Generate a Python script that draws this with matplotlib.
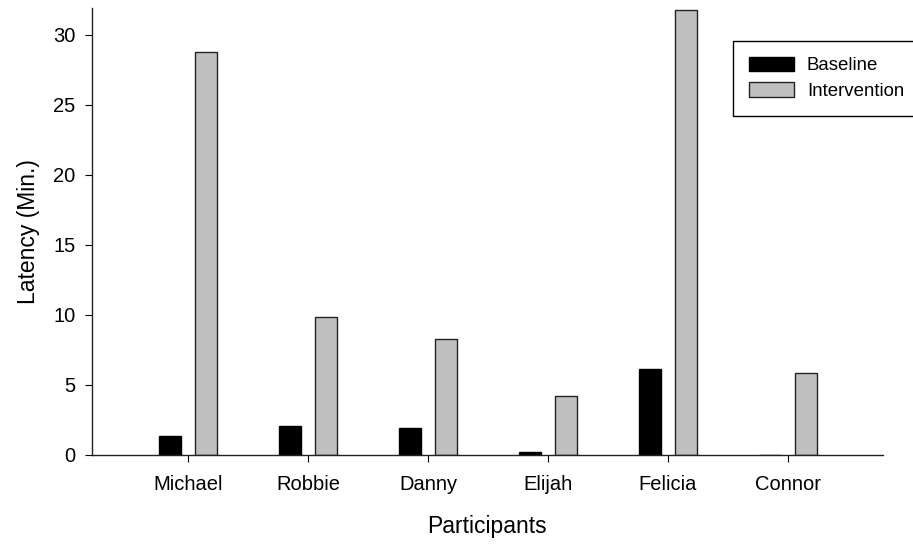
import numpy as np
import matplotlib.pyplot as plt

plt.rcParams['font.family'] = ['Liberation Sans', 'DejaVu Sans']

participants = ['Michael', 'Robbie', 'Danny', 'Elijah', 'Felicia', 'Connor']
baseline = [1.3, 2.05, 1.87, 0.2, 6.1, 0.0]
intervention = [28.75, 9.8, 8.25, 4.2, 31.8, 5.85]

x = np.arange(len(participants))
ancho = 0.183

fig = plt.figure(figsize=(9.13, 5.47), dpi=100)
ax = fig.add_axes([0.1008, 0.169, 0.866, 0.816])

ax.bar(x - 0.15, baseline, ancho, color='black', edgecolor='black',
       linewidth=1, label='Baseline')
ax.bar(x + 0.15, intervention, ancho, color='#c0c0c0', edgecolor='#222222',
       linewidth=1, label='Intervention')

ax.set_xlim(-0.8, 5.79)
ax.set_ylim(0, 31.9)
ax.set_xticks(x)
ax.set_xticklabels(participants)
ax.set_yticks([0, 5, 10, 15, 20, 25, 30])

for lado in ['top', 'right']:
    ax.spines[lado].set_visible(False)
for lado in ['left', 'bottom']:
    ax.spines[lado].set_linewidth(1.0)
    ax.spines[lado].set_color('#222222')

ax.tick_params(axis='x', direction='out', length=5, pad=10, labelsize=14.5)
ax.tick_params(axis='y', direction='out', length=5, pad=7, labelsize=14.5)

ax.set_xlabel('Participants', fontsize=16.5, labelpad=15)
ax.set_ylabel('Latency (Min.)', fontsize=16.5, labelpad=9)

leg = ax.legend(loc='upper left', bbox_to_anchor=(733 / 913, 1 - 41 / 547),
                bbox_transform=fig.transFigure, fontsize=13.4,
                fancybox=False, framealpha=1, edgecolor='black',
                handlelength=2.42, handleheight=0.8, handletextpad=0.7,
                labelspacing=0.43, borderpad=0.85, borderaxespad=0)
leg.get_frame().set_linewidth(1.0)

plt.savefig('out.png', dpi=100)
